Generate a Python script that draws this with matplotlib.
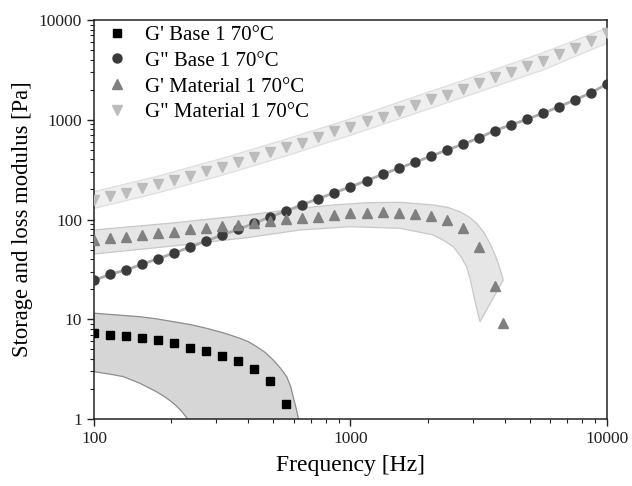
import matplotlib.pyplot as plt
from matplotlib.lines import Line2D

plt.rcParams['font.family'] = ['Liberation Serif', 'DejaVu Serif']

# frequency grid (Hz), 16 points per decade
freq = [100, 115.5, 133.4, 154, 177.8, 205.4, 237.1, 273.8, 316.2, 365.2, 421.7,
        487, 562.3, 649.4, 749.9, 866, 1000, 1155, 1334, 1540, 1778, 2054, 2371,
        2738, 3162, 3652, 4217, 4870, 5623, 6494, 7499, 8660, 10000]

# G' Base 1 (squares)
gp_base = [7.23, 7.0, 6.75, 6.44, 6.15, 5.74, 5.19, 4.78, 4.31, 3.84, 3.17, 2.42, 1.42]
# G'' Base 1 (circles)
gpp_base = [24.5, 28.2, 31.2, 35.6, 40.5, 46.1, 53.0, 60.9, 69.9, 79.8, 91.6, 106.7,
            122, 141, 162, 185.6, 213, 245, 284, 326, 374, 430, 497, 568, 656, 780,
            886, 1011, 1161, 1352, 1578, 1866, 2282]
# G' Material 1 (up triangles), last point off the grid
gp_mat_freq = freq[:26] + [3934]
gp_mat = [62.3, 64.8, 67.3, 70, 73.3, 75.5, 79.8, 82.8, 86.1, 88.1, 92.9, 97.3, 100.5,
          102.8, 106.7, 111, 115, 117, 118, 117, 113.5, 108.4, 98.9, 81.6, 52.6, 21.5, 9.2]
# G'' Material 1 (down triangles)
gpp_mat = [156.8, 173, 185.6, 205.4, 225.3, 249, 274.9, 306.5, 338.3, 379.6, 425.9,
           471.7, 529.4, 588.8, 676, 771, 851, 971, 1073, 1224, 1406, 1603, 1771, 2019,
           2318, 2704, 3033, 3458, 3908, 4530, 5200, 6205, 7459]

# shaded bands (upper / lower edges)
band1_up_f = [100, 125, 151, 175, 204, 240, 275, 320, 371, 400, 431, 465, 500, 535,
              564, 585, 598, 613, 626, 640]
band1_up_v = [11.5, 11.0, 10.6, 10.1, 9.45, 8.8, 8.11, 7.3, 6.44, 5.95, 5.31, 4.65,
              3.90, 3.2, 2.66, 2.1, 1.67, 1.3, 1.03, 0.8]
band1_lo_f = [100, 115, 130, 151, 175, 190, 204, 218, 230, 240]
band1_lo_v = [2.98, 2.82, 2.66, 2.28, 1.88, 1.65, 1.44, 1.22, 1.03, 0.8]

band3_up_f = [100, 200, 400, 636, 857, 1157, 1560, 2103, 2400, 2673, 2900, 3105, 3300,
              3498, 3650, 3769, 3944]
band3_up_v = [78.5, 92, 111, 129.5, 139.8, 147.3, 148.7, 139.8, 132, 119.7, 106, 91.6,
              75, 57.7, 45, 36.4, 24.7]
band3_lo_f = [100, 200, 400, 636, 995, 1560, 2103, 2300, 2517, 2700, 2838, 2930, 3012,
              3100, 3198]
band3_lo_v = [45.1, 54, 66, 78.5, 84.7, 81.6, 70, 62, 53.4, 42, 33.6, 25, 18.2, 13, 9.45]

band4_f = [100, 177.8, 316.2, 562.3, 1000, 1778, 3162, 5623, 10000]
band4_up_v = [190, 272, 410, 640, 1020, 1700, 2800, 4700, 8300]
band4_lo_v = [129, 185, 278, 435, 700, 1150, 1900, 3150, 5850]

fig = plt.figure(figsize=(6.32, 4.86), dpi=100)
ax = fig.add_axes([0.1487, 0.1379, 0.8117, 0.8209])


def band(ax, uf, uv, lf, lv, fc, ec):
    xs = uf + lf[::-1]
    ys = uv + lv[::-1]
    ax.fill(xs, ys, facecolor=fc, edgecolor=ec, linewidth=0.9, zorder=1)


band(ax, band1_up_f, band1_up_v, band1_lo_f, band1_lo_v, '#d6d6d6', '#8c8c8c')
band(ax, band3_up_f, band3_up_v, band3_lo_f, band3_lo_v, '#e6e6e6', '#c8c8c8')
band(ax, band4_f, band4_up_v, band4_f, band4_lo_v, '#efefef', '#dedede')

# fit line under the circles
ax.plot(freq, gpp_base, '-', color='#ababab', lw=2.0, zorder=2)

ax.plot(freq[:13], gp_base, 's', color='black', ms=5.5, zorder=3)
ax.plot(freq, gpp_base, 'o', color='#3a3a3a', ms=6.5, zorder=3)
ax.plot(gp_mat_freq, gp_mat, '^', color='#808080', ms=7, zorder=3)
ax.plot(freq, gpp_mat, 'v', color='#bcbcbc', ms=7, zorder=3)

ax.set_xscale('log')
ax.set_yscale('log')
ax.set_xlim(100, 10000)
ax.set_ylim(1, 10000)
ax.set_xticks([100, 1000, 10000])
ax.set_xticklabels(['100', '1000', '10000'])
ax.set_yticks([1, 10, 100, 1000, 10000])
ax.set_yticklabels(['1', '10', '100', '1000', '10000'])
ax.tick_params(which='major', direction='out', length=5, width=1, labelsize=12.5, colors='#222222')
ax.tick_params(which='minor', direction='out', length=3, width=0.8, colors='#222222')
for s in ax.spines.values():
    s.set_linewidth(1.1)
    s.set_color('#222222')

ax.set_xlabel('Frequency [Hz]', fontsize=17, labelpad=6)
ax.set_ylabel('Storage and loss modulus [Pa]', fontsize=16.3)
ax.yaxis.set_label_coords(-0.119, 0.5)

handles = [
    Line2D([], [], ls='', marker='s', color='black', ms=5.5),
    Line2D([], [], ls='', marker='o', color='#3a3a3a', ms=6.5),
    Line2D([], [], ls='', marker='^', color='#808080', ms=7),
    Line2D([], [], ls='', marker='v', color='#bcbcbc', ms=7),
]
labels = ["G' Base 1 70°C", 'G" Base 1 70°C', "G' Material 1 70°C", 'G" Material 1 70°C']
ax.legend(handles, labels, loc='upper left', bbox_to_anchor=(0.0, 1.018), frameon=False,
          fontsize=15, handlelength=1, handletextpad=0.85, borderaxespad=0.2,
          labelspacing=0.3)

fig.savefig('out.png', dpi=100)
